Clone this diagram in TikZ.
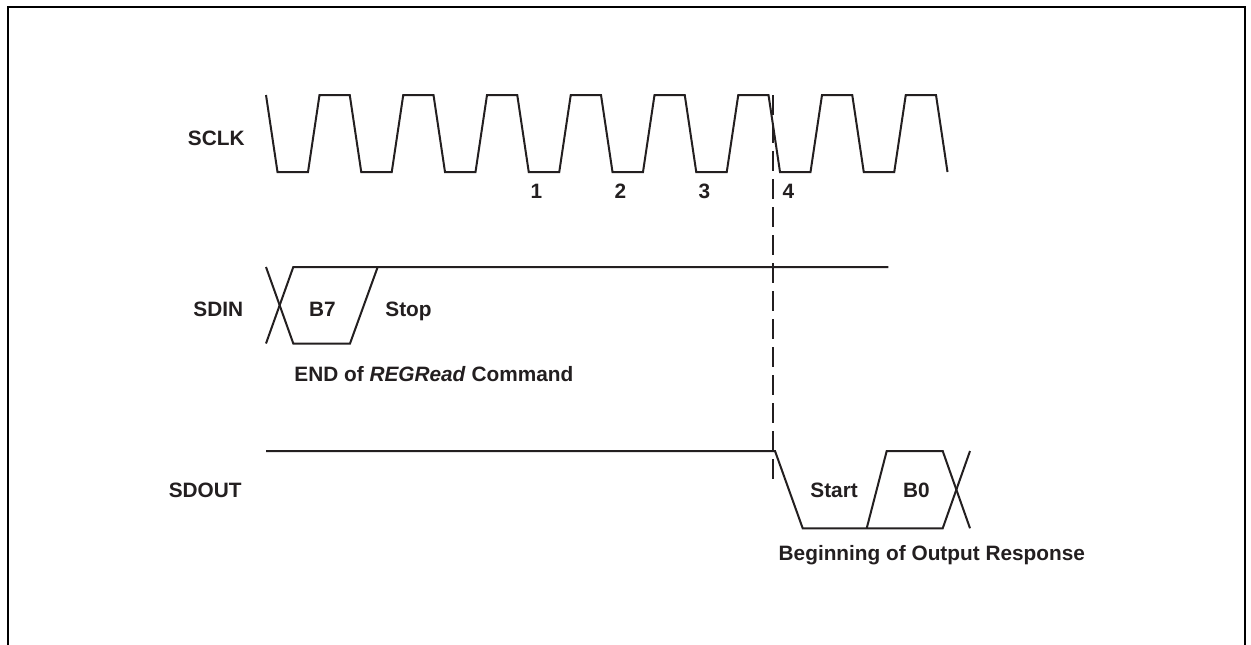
\documentclass[tikz,border=0pt]{standalone}
\usepackage{fontspec}
\setmainfont{Liberation Sans}
\definecolor{ink}{RGB}{35,31,32}
\begin{document}
\begin{tikzpicture}[x=0.5pt,y=-0.5pt,
  sig/.style={line width=1pt, draw=ink, line join=miter},
  guide/.style={line width=1pt, draw=ink, dash pattern=on 10pt off 4pt},
  lbl/.style={font=\bfseries\fontsize{10.4pt}{12pt}\selectfont, text=ink, inner sep=0pt}]
\useasboundingbox (0,0) rectangle (1251,644);
\clip (0,0) rectangle (1251,644);
\fill[white] (0,0) rectangle (1251,644);
\draw[line width=1pt, black] (7.7,7.2) rectangle (1245,670);

% signal names
\node[lbl, anchor=base east] (sclk) at (245,145) {SCLK};
\node[lbl, anchor=base east] (sdin) at (243.5,316.5) {SDIN};
\node[lbl, anchor=base east] (sdout) at (242,497) {SDOUT};

% SCLK waveform
\draw[sig] (266,95) \foreach \k in {0,...,7}{ -- ++(11.5,77) -- ++(30.5,0) -- ++(11.5,-77) -- ++(30.25,0)} -- ++(11.5,77);

% clock numbers
\node[lbl, anchor=base] (n1) at (536.5,198.3) {1};
\node[lbl, anchor=base] (n2) at (620.5,198.3) {2};
\node[lbl, anchor=base] (n3) at (704.5,198.3) {3};
\node[lbl, anchor=base] (n4) at (788.5,198.3) {4};

% SDIN waveform
\draw[sig] (266,267) -- (293.3,343.5) -- (350,343.5) -- (377.7,267);
\draw[sig] (266,343.5) -- (293.3,267) -- (888.3,267);
\node[lbl, anchor=base] (b7) at (322.5,316) {B7};
\node[lbl, anchor=base west] (stop) at (385,316) {Stop};
\node[lbl, anchor=base west] (endcmd) at (294,381.7) {END of \textit{REGRead} Command};

% SDOUT waveform
\draw[sig] (266,451) -- (775,451) -- (802.7,528.3) -- (942.7,528.3) -- (970,451);
\draw[sig] (866.7,528.3) -- (886.7,451) -- (942.7,451) -- (970,528.3);
\node[lbl, anchor=base west] (start) at (810,497) {Start};
\node[lbl, anchor=base] (b0) at (916.3,497) {B0};
\node[lbl, anchor=base west] (begin) at (778.3,560) {Beginning of Output Response};

% dashed marker
\coordinate (dtop) at (773.3,95);
\coordinate (dbot) at (773.3,482);
\draw[guide] (dtop) -- (dbot);
\end{tikzpicture}
\end{document}
